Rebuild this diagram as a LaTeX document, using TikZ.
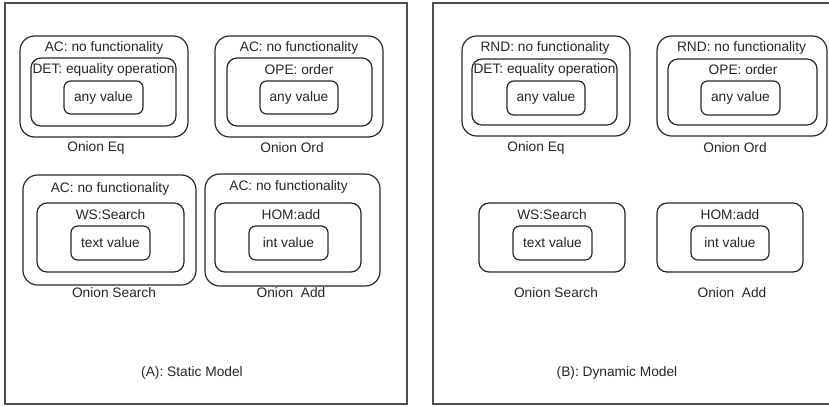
\documentclass[tikz,border=0pt]{standalone}
\usepackage{fontspec}
\setmainfont{Liberation Sans}
\usetikzlibrary{fit}
\begin{document}
\begin{tikzpicture}[x=0.75pt,y=-0.75pt,
  every node/.style={font=\fontsize{10.3}{12}\selectfont, text=black!85},
  frame/.style={draw=black!70, line width=1.3pt},
  obox/.style={draw=black!85, line width=0.9pt, rounded corners=11pt, inner sep=0pt},
  mbox/.style={draw=black!85, line width=0.9pt, rounded corners=7.5pt, inner sep=0pt},
  ibox/.style={draw=black!85, line width=0.9pt, rounded corners=5pt, inner sep=0pt},
  txt/.style={inner sep=0pt}]
\useasboundingbox (0,0) rectangle (829,407);
% frames
\draw[frame] (5,3) rectangle (407,404);
\draw[frame] (832,3) -- (433,3) -- (433,404) -- (832,404);
% ---------- (A) static model ----------
% Onion Eq
\node[obox, fit={(20,36) (188,137)}] (aEqO) {};
\node[mbox, fit={(31,58) (176,126)}] (aEqM) {};
\node[ibox, fit={(64,81) (143,114)}] (aEqI) {};
\node[txt] (aEqV) at (aEqI.center) {any value};
\node[txt] (aEqT1) at (104,48) {AC: no functionality};
\node[txt] (aEqT2) at (103.5,70) {DET: equality operation};
\node[txt] (aEqL) at (96,148) {Onion Eq};
% Onion Ord
\node[obox, fit={(215,36) (383,137)}] (aOrdO) {};
\node[mbox, fit={(227,58) (372,126)}] (aOrdM) {};
\node[ibox, fit={(260,81) (338,114)}] (aOrdI) {};
\node[txt] (aOrdV) at (aOrdI.center) {any value};
\node[txt] (aOrdT1) at (299,48) {AC: no functionality};
\node[txt] (aOrdT2) at (299,70) {OPE: order};
\node[txt] (aOrdL) at (292,148) {Onion Ord};
% Onion Search
\node[obox, fit={(23,175) (196,285)}] (aSeO) {};
\node[mbox, fit={(37,203) (184,272)}] (aSeM) {};
\node[ibox, fit={(71,226) (150,260)}] (aSeI) {};
\node[txt] (aSeV) at (aSeI.center) {text value};
\node[txt] (aSeT1) at (110,189) {AC: no functionality};
\node[txt] (aSeT2) at (110.5,215) {WS:Search};
\node[txt] (aSeL) at (114,293) {Onion Search};
% Onion Add
\node[obox, fit={(205,174) (380,286)}] (aAdO) {};
\node[mbox, fit={(215,203) (361,272)}] (aAdM) {};
\node[ibox, fit={(249,226) (328,260)}] (aAdI) {};
\node[txt] (aAdV) at (aAdI.center) {int value};
\node[txt] (aAdT1) at (288.5,187) {AC: no functionality};
\node[txt] (aAdT2) at (291,215) {HOM:add};
\node[txt] (aAdL) at (291,293) {Onion\ \ Add};
\node[txt] (aCap) at (192,373) {(A): Static Model};
% ---------- (B) dynamic model ----------
% Onion Eq
\node[obox, fit={(462,36) (630,136)}] (bEqO) {};
\node[mbox, fit={(472,59) (617,125)}] (bEqM) {};
\node[ibox, fit={(507,81) (585,115)}] (bEqI) {};
\node[txt] (bEqV) at (bEqI.center) {any value};
\node[txt] (bEqT1) at (545,48) {RND: no functionality};
\node[txt] (bEqT2) at (544.5,70) {DET: equality operation};
\node[txt] (bEqL) at (536,148) {Onion Eq};
% Onion Ord
\node[obox, fit={(657,36) (827,136)}] (bOrdO) {};
\node[mbox, fit={(668,59) (817,125)}] (bOrdM) {};
\node[ibox, fit={(701,81) (780,115)}] (bOrdI) {};
\node[txt] (bOrdV) at (bOrdI.center) {any value};
\node[txt] (bOrdT1) at (741.5,48) {RND: no functionality};
\node[txt] (bOrdT2) at (743,70) {OPE: order};
\node[txt] (bOrdL) at (735,148) {Onion Ord};
% Onion Search
\node[mbox, fit={(479,203) (625,272)}] (bSeM) {};
\node[ibox, fit={(513,226) (592,260)}] (bSeI) {};
\node[txt] (bSeV) at (bSeI.center) {text value};
\node[txt] (bSeT2) at (552,215) {WS:Search};
\node[txt] (bSeL) at (556,293) {Onion Search};
% Onion Add
\node[mbox, fit={(657,203) (803,272)}] (bAdM) {};
\node[ibox, fit={(691,226) (769,260)}] (bAdI) {};
\node[txt] (bAdV) at (bAdI.center) {int value};
\node[txt] (bAdT2) at (730,215) {HOM:add};
\node[txt] (bAdL) at (732,293) {Onion\ \ Add};
\node[txt] (bCap) at (617,373) {(B): Dynamic Model};
\end{tikzpicture}
\end{document}
